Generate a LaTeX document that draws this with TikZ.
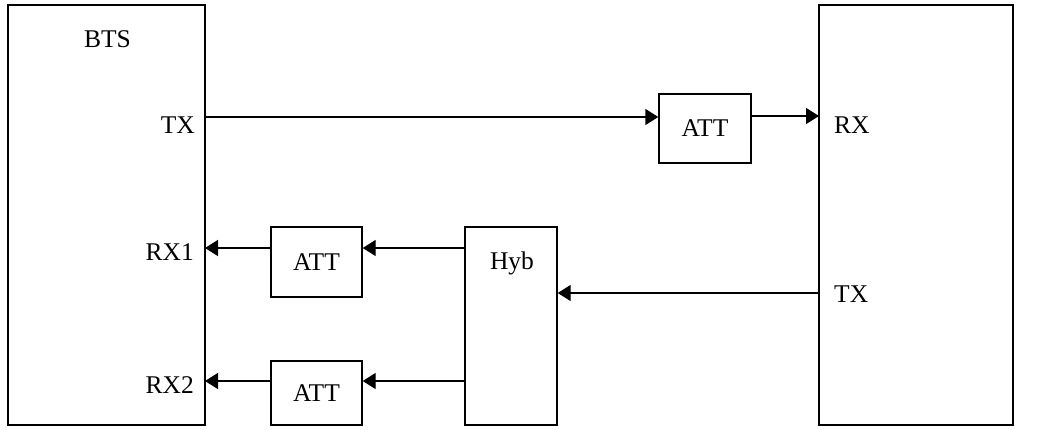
\documentclass[tikz,border=0pt]{standalone}
\usepackage{fontspec}
\setmainfont{Liberation Serif}
\usetikzlibrary{arrows.meta}

\begin{document}
\begin{tikzpicture}[x=1pt, y=-1pt, font=\fontsize{25.5}{30}\selectfont]
            % 定义样式
            \tikzstyle{box}=[draw, line width=1.4pt, rectangle, inner sep=0pt]
            \tikzstyle{port}=[inner sep=0pt]
            \tikzstyle{arr}=[line width=1.4pt, -{Triangle[length=13pt,width=16pt]}]
            \useasboundingbox (0,0) rectangle (1044,429);

            % 两侧大框
            \node[box, minimum width=197pt, minimum height=420pt] (bts) at (106.5,215) {};
            \node[box, minimum width=194pt, minimum height=420pt] (mob) at (916,215) {};

            % 衰减器与混合器
            \node[box, minimum width=92pt, minimum height=69pt] (att1) at (705,128.5) {ATT};
            \node[box, minimum width=91pt, minimum height=70pt] (att2) at (316.5,262) {ATT};
            \node[box, minimum width=91pt, minimum height=64pt] (att3) at (316.5,393) {ATT};
            \node[box, minimum width=92pt, minimum height=198pt] (hyb) at (511,326) {};
            \node[port, anchor=base] (hyblbl) at (512,269) {Hyb};

            % 端口标签
            \node[port, anchor=base] (btslbl) at (107.5,47) {BTS};
            \node[port, anchor=base east] (btstxlbl) at (195,133) {TX};
            \node[port, anchor=base east] (btsrx1lbl) at (194,260) {RX1};
            \node[port, anchor=base east] (btsrx2lbl) at (194,393) {RX2};
            \node[port, anchor=base west] (mobrxlbl) at (834,133) {RX};
            \node[port, anchor=base west] (mobtxlbl) at (834,302) {TX};

            % 端口位置
            \coordinate (btstx) at (205,117);
            \coordinate (btsrx1) at (205,248);
            \coordinate (btsrx2) at (205,381);
            \coordinate (mobrx) at (819,116);
            \coordinate (mobtx) at (819,293);

            % 连线
            \draw[arr] (btstx) -- (btstx -| att1.west);
            \draw[arr] (mobrx -| att1.east) -- (mobrx);
            \draw[arr] (mobtx) -- (mobtx -| hyb.east);
            \draw[arr] (btsrx1 -| hyb.west) -- (btsrx1 -| att2.east);
            \draw[arr] (btsrx1 -| att2.west) -- (btsrx1);
            \draw[arr] (btsrx2 -| hyb.west) -- (btsrx2 -| att3.east);
            \draw[arr] (btsrx2 -| att3.west) -- (btsrx2);
        \end{tikzpicture}
\end{document}
